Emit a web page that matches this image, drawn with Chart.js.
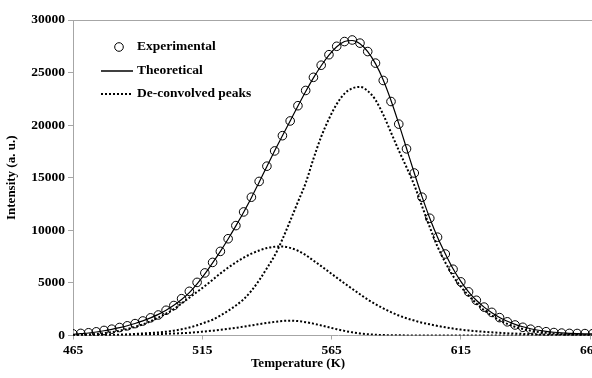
<!DOCTYPE html>
<html>
<head>
<meta charset="utf-8">
<script src="https://cdn.jsdelivr.net/npm/chart.js@4.4.1/dist/chart.umd.min.js"></script>
<style>
  html, body { margin: 0; padding: 0; background: #fff; overflow: hidden; }
  #wrap { width: 592px; height: 378px; overflow: hidden; }
  canvas { display: block; }
</style>
</head>
<body>
<div id="wrap"><canvas id="tl" width="640" height="378"></canvas></div>
<script>
// temperatures (K), one reading every 3 K
const temps = [465, 468, 471, 474, 477, 480, 483, 486, 489, 492,
  495, 498, 501, 504, 507, 510, 513, 516, 519, 522,
  525, 528, 531, 534, 537, 540, 543, 546, 549, 552,
  555, 558, 561, 564, 567, 570, 573, 576, 579, 582,
  585, 588, 591, 594, 597, 600, 603, 606, 609, 612,
  615, 618, 621, 624, 627, 630, 633, 636, 639, 642,
  645, 648, 651, 654, 657, 660, 663, 666];

const experimental = [150, 200, 260, 350, 480, 600, 760, 920, 1130, 1380,
  1680, 1950, 2400, 2850, 3500, 4200, 5050, 5950, 6950, 8000,
  9200, 10450, 11750, 13150, 14650, 16100, 17550, 19000, 20400, 21850,
  23300, 24550, 25700, 26700, 27500, 27950, 28100, 27800, 27000, 25900,
  24250, 22250, 20100, 17750, 15450, 13150, 11150, 9350, 7750, 6300,
  5100, 4150, 3350, 2700, 2200, 1700, 1300, 1000, 780, 600,
  450, 360, 280, 230, 200, 190, 180, 170];

const theoretical = [120, 170, 240, 330, 450, 590, 750, 930, 1140, 1390,
  1680, 2010, 2400, 2870, 3420, 4070, 4900, 5850, 6900, 8000,
  9180, 10420, 11720, 13100, 14580, 16080, 17560, 19000, 20400, 21820,
  23200, 24500, 25650, 26650, 27450, 27950, 28050, 27750, 27000, 25850,
  24300, 22350, 20150, 17800, 15450, 13200, 11150, 9350, 7780, 6350,
  5150, 4150, 3350, 2700, 2170, 1720, 1350, 1060, 830, 640,
  500, 390, 310, 250, 210, 180, 160, 150];

const peakHigh = [0, 10, 20, 30, 40, 60, 80, 110, 150, 200,
  240, 290, 360, 460, 590, 760, 970, 1230, 1500, 1900,
  2350, 2850, 3450, 4250, 5250, 6400, 7600, 9150, 10900, 12700,
  14500, 16800, 18900, 20600, 22000, 23000, 23500, 23640, 23250, 22400,
  21000, 19300, 17600, 16000, 14300, 12300, 10300, 8450, 6950, 5650,
  4650, 3800, 3050, 2400, 1900, 1450, 1100, 820, 620, 460,
  340, 250, 180, 130, 100, 70, 50, 40];

const peakMid = [30, 60, 100, 150, 220, 320, 450, 620, 820, 1050,
  1350, 1700, 2080, 2500, 3050, 3600, 4150, 4700, 5300, 5900,
  6450, 6950, 7400, 7780, 8080, 8320, 8440, 8460, 8330, 8060,
  7650, 7120, 6600, 6050, 5500, 4960, 4440, 3920, 3420, 2980,
  2580, 2220, 1900, 1640, 1420, 1220, 1060, 910, 780, 660,
  560, 480, 410, 350, 300, 250, 210, 180, 150, 125,
  100, 85, 70, 60, 50, 40, 35, 30];

const peakLow = [0, 5, 10, 15, 20, 30, 40, 50, 65, 85,
  105, 130, 160, 190, 220, 260, 320, 390, 460, 540,
  630, 730, 840, 960, 1080, 1200, 1300, 1380, 1410, 1370,
  1270, 1130, 960, 780, 600, 440, 300, 190, 120, 70,
  40, 25, 15, 10, 5, 0, 0, 0, 0, 0,
  0, 0, 0, 0, 0, 0, 0, 0, 0, 0,
  0, 0, 0, 0, 0, 0, 0, 0];

const xTicks = [465, 515, 565, 615, 665];

const serif = '"Liberation Serif", "Times New Roman", serif';
const axisGray = '#a6a6a6';

const pairs = (vals) => temps.map((t, i) => ({ x: t, y: vals[i] }));

const dotted = (vals) => ({
  data: pairs(vals),
  borderColor: '#000',
  borderWidth: 2,
  borderDash: [2, 2],
  pointRadius: 0,
  cubicInterpolationMode: 'monotone',
  fill: false,
  order: 3
});

// legend, plot frame top and x title drawn by hand like the original
const framePlugin = {
  id: 'framePlugin',
  afterDraw: (chart) => {
    const { ctx, chartArea: { left, right, top } } = chart;
    ctx.save();

    ctx.strokeStyle = axisGray;
    ctx.lineWidth = 1;
    ctx.beginPath();
    ctx.moveTo(left, top + 0.5);
    ctx.lineTo(right, top + 0.5);
    ctx.stroke();

    ctx.fillStyle = '#000';
    ctx.font = 'bold 13.5px ' + serif;
    ctx.textBaseline = 'middle';
    ctx.textAlign = 'left';

    ctx.strokeStyle = '#000';
    ctx.lineWidth = 1;
    ctx.beginPath();
    ctx.arc(119, 47, 4.3, 0, Math.PI * 2);
    ctx.stroke();
    ctx.fillText('Experimental', 137, 47);

    ctx.lineWidth = 1.5;
    ctx.beginPath();
    ctx.moveTo(101, 71);
    ctx.lineTo(133, 71);
    ctx.stroke();
    ctx.fillText('Theoretical', 137, 71);

    ctx.lineWidth = 2;
    ctx.setLineDash([2, 2]);
    ctx.beginPath();
    ctx.moveTo(101, 94);
    ctx.lineTo(133, 94);
    ctx.stroke();
    ctx.setLineDash([]);
    ctx.fillText('De-convolved peaks', 137, 94);

    ctx.font = 'bold 13px ' + serif;
    ctx.textAlign = 'center';
    ctx.fillText('Temperature (K)', 298, 364);

    ctx.restore();
  }
};

const ctx = document.getElementById('tl').getContext('2d');
new Chart(ctx, {
  type: 'line',
  data: {
    datasets: [
      {
        label: 'Experimental',
        data: pairs(experimental),
        showLine: false,
        pointStyle: 'circle',
        pointRadius: 4.3,
        pointBorderWidth: 1,
        pointBorderColor: '#000',
        pointBackgroundColor: 'rgba(255,255,255,0)',
        order: 1
      },
      {
        label: 'Theoretical',
        data: pairs(theoretical),
        borderColor: '#000',
        borderWidth: 1.2,
        pointRadius: 0,
        cubicInterpolationMode: 'monotone',
        fill: false,
        order: 2
      },
      { label: 'Peak 1', ...dotted(peakHigh) },
      { label: 'Peak 2', ...dotted(peakMid) },
      { label: 'Peak 3', ...dotted(peakLow) }
    ]
  },
  options: {
    responsive: false,
    animation: false,
    layout: { padding: { top: 20, right: 37, left: 0, bottom: 0 } },
    plugins: {
      legend: { display: false },
      tooltip: { enabled: false }
    },
    scales: {
      x: {
        type: 'linear',
        min: 465,
        max: 670,
        afterBuildTicks: (scale) => { scale.ticks = xTicks.map(v => ({ value: v })); },
        ticks: {
          color: '#000', padding: 3,
          font: { family: serif, size: 13.5, weight: 'bold' },
          callback: (v) => String(v)
        },
        grid: { drawOnChartArea: false, tickLength: 4, tickColor: axisGray },
        border: { color: axisGray },
        afterFit: (scale) => { scale.height = 42.5; }
      },
      y: {
        min: 0,
        max: 30000,
        ticks: {
          stepSize: 5000, color: '#000', padding: 3,
          font: { family: serif, size: 13.5, weight: 'bold' },
          callback: (v) => String(v)
        },
        grid: { drawOnChartArea: false, tickLength: 5, tickColor: axisGray },
        border: { color: axisGray },
        title: {
          display: true,
          text: 'Intensity (a. u.)',
          color: '#000',
          padding: { top: 4, bottom: 0 },
          font: { family: serif, size: 13, weight: 'bold' }
        },
        afterFit: (scale) => { scale.width = 73; }
      }
    }
  },
  plugins: [framePlugin]
});
</script>
</body>
</html>
